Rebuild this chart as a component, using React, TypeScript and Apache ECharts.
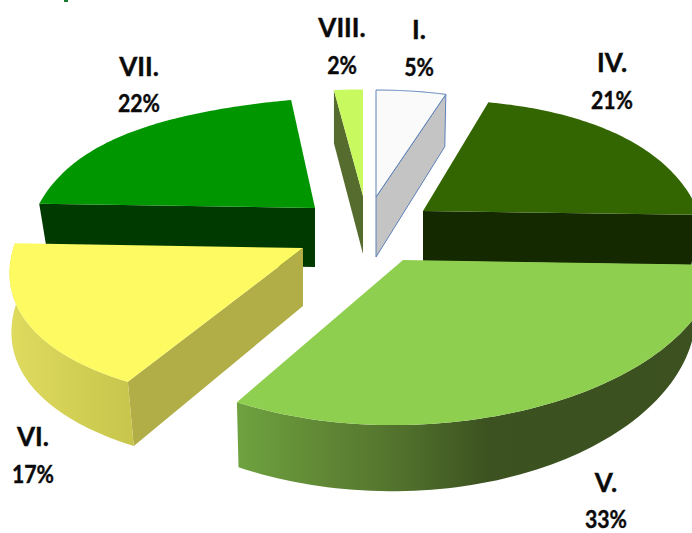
import React, { useEffect, useRef } from "react";
import * as echarts from "echarts";

const categories = ["I.", "IV.", "V.", "VI.", "VII.", "VIII."];
const shares = [5, 21, 33, 17, 22, 2];

const topColors = ["#fafafa", "#336600", "#8fcf50", "#fdfa62", "#009600", "#c8fa60"];
const wallColors = ["#c4c4c4", "#142900", "#3c5120", "#b1ae47", "#003a00", "#566b2e"];

// Each slice is pulled out and foreshortened on its own, as in the 3-D original.
const geometry = [
  { cx: 376, cy: 197, rxL: 226, rxR: 226, ry: 130.5, kx: 0, ky: 0.22, py: 1, shear: 0, depth: 60, sy: 1.075, sxL: 0.965, sxR: 0.985, sxFar: 0, wall: "end" },
  { cx: 423, cy: 211, rxL: 272, rxR: 272, ry: 166, kx: 0.3, ky: 0.5, py: 1, shear: -0.025, depth: 50, sy: 1.046, sxL: 0.965, sxR: 0.97, sxFar: 0, wall: "end" },
  { cx: 403, cy: 260, rxL: 310, rxR: 315, ry: 165, kx: 0, ky: 0, py: 1, shear: -0.017, depth: 58.5, sy: 1.046, sxL: 0.99, sxR: 0.93, sxFar: 0, wall: "outer" },
  { cx: 303, cy: 248, rxL: 291, rxR: 291, ry: 155, kx: 0.13, ky: 0, py: 1, shear: -0.017, depth: 58, sy: 1.046, sxL: 0.9255, sxR: 0.98, sxFar: 0.0675, wall: "startOuter" },
  { cx: 315, cy: 208, rxL: 285, rxR: 285, ry: 198, kx: 0.5, ky: 0.8, py: 0.75, shear: -0.07, depth: 59, sy: 1.046, sxL: 0.965, sxR: 0.965, sxFar: 0, wall: "start" },
  { cx: 363, cy: 196, rxL: 232, rxR: 232, ry: 130, kx: 0, ky: 0.22, py: 1, shear: 0, depth: 58, sy: 1.047, sxL: 1, sxR: 1, sxFar: 0, wall: "start" },
];

const drawOrder = [5, 0, 4, 1, 3, 2];

const labelPositions = [
  [419, 29, 66],
  [612, 62, 99],
  [606, 482, 518],
  [33, 436, 473],
  [139, 66, 102],
  [342, 27, 64],
];

type G = (typeof geometry)[number];
type P = [number, number];

function rim(g: G, theta: number): P {
  const c = Math.cos(theta);
  const s = Math.sin(theta);
  const dx = (s > 0 ? g.rxR : g.rxL) * s / (1 + g.kx * c);
  const cp = Math.sign(c) * Math.pow(Math.abs(c), g.py);
  const dy = (-g.ry * cp) / (1 + g.ky * c);
  return [g.cx + dx, g.cy + dy + g.shear * dx];
}

function lower(g: G, p: P): P {
  const left = p[0] < g.cx;
  const sx = left ? g.sxL + (g.sxFar * (g.cx - p[0])) / g.rxL : g.sxR;
  return [g.cx + (p[0] - g.cx) * sx, g.cy + g.depth + (p[1] - g.cy) * g.sy];
}

function arcPoints(g: G, a: number, b: number): P[] {
  const out: P[] = [];
  const steps = 72;
  for (let i = 0; i <= steps; i++) out.push(rim(g, a + ((b - a) * i) / steps));
  return out;
}

function sliceAngles(index: number): [number, number] {
  const total = shares.reduce((s, v) => s + v, 0);
  const before = shares.slice(0, index).reduce((s, v) => s + v, 0);
  return [(before / total) * 2 * Math.PI, ((before + shares[index]) / total) * 2 * Math.PI];
}

function outerFill(index: number) {
  if (index === 2) {
    return new echarts.graphic.LinearGradient(0, 0, 1, 0, [
      { offset: 0, color: "#6ea23f" },
      { offset: 0.2, color: "#5f8534" },
      { offset: 0.35, color: "#50702c" },
      { offset: 0.52, color: "#3c5220" },
      { offset: 1, color: "#3c5020" },
    ]);
  }
  return new echarts.graphic.LinearGradient(0, 0, 1, 0, [
    { offset: 0, color: "#dedb5f" },
    { offset: 1, color: "#c8c54c" },
  ]);
}

function renderSlice(params: any) {
  const index = drawOrder[params.dataIndex];
  const g = geometry[index];
  const [a, b] = sliceAngles(index);
  const apex: P = [g.cx, g.cy];
  const top = arcPoints(g, a, b);
  const outlined = index === 0;
  const edge = outlined ? { stroke: "#5b82b8", lineWidth: 1 } : {};
  const children: any[] = [];

  const radial = (theta: number) => {
    const p = rim(g, theta);
    children.push({
      type: "polygon",
      shape: { points: [apex, p, lower(g, p), lower(g, apex)] },
      style: { fill: wallColors[index], ...edge },
    });
  };

  if (g.wall === "start" || g.wall === "startOuter") radial(a);
  if (g.wall === "end") radial(b);
  if (g.wall === "outer" || g.wall === "startOuter") {
    const bottom = top.map((p) => lower(g, p)).reverse();
    children.push({
      type: "polygon",
      shape: { points: [...top, ...bottom] },
      style: { fill: outerFill(index) },
    });
  }
  children.push({
    type: "polygon",
    shape: { points: [apex, ...top] },
    style: { fill: topColors[index], ...edge },
  });
  return { type: "group", children };
}

export default function App() {
  const ref = useRef<HTMLDivElement>(null);
  useEffect(() => {
    document.body.style.margin = "0";
    document.body.style.overflow = "hidden";
    const chart = echarts.init(ref.current!, undefined, { renderer: "svg" });
    const labelStyle = {
      fontFamily: "Lato",
      fontWeight: "bold" as const,
      fontSize: 25,
      fill: "#0a0a0a",
      stroke: "#0a0a0a",
      lineWidth: 0.4,
      textAlign: "center" as const,
      textVerticalAlign: "middle" as const,
    };
    const labels: any[] = [];
    categories.forEach((name, i) => {
      const [x, y1, y2] = labelPositions[i];
      labels.push({ type: "text", x, y: y1, style: { ...labelStyle, fontSize: 26, text: name } });
      labels.push({ type: "text", x, y: y2, scaleX: 0.85, style: { ...labelStyle, text: `${shares[i]}%` } });
    });
    chart.setOption({
      animation: false,
      backgroundColor: "#ffffff",
      series: [
        {
          type: "custom",
          coordinateSystem: "none",
          silent: true,
          data: drawOrder.map((i) => ({ name: categories[i], value: shares[i] })),
          renderItem: renderSlice,
        },
      ],
      graphic: [
        { type: "rect", shape: { x: 64, y: 0, width: 4, height: 2 }, style: { fill: "#1a7a30" } },
        ...labels,
      ],
    });
    return () => chart.dispose();
  }, []);
  return <div ref={ref} style={{ width: 692, height: 533 }} />;
}
